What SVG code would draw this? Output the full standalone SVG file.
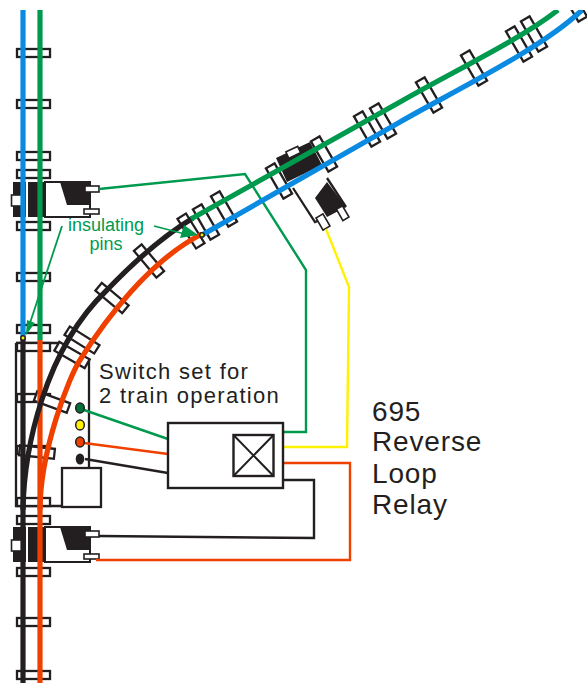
<svg xmlns="http://www.w3.org/2000/svg" width="587" height="683" viewBox="0 0 587 683">
<style>
.tie{fill:#fff;stroke:#231f20;stroke-width:2.3}
.hollow{fill:none;stroke:#231f20;stroke-width:2.3}
.rail{fill:none;stroke-width:5.2}
.wire{fill:none;stroke-width:2.4}
.bl{stroke:#0a8ae0}.gr{stroke:#009a4e}.rd{stroke:#f04000}.bk{stroke:#231f20}.yl{stroke:#fff200}
.pin{fill:#fff;stroke:#231f20;stroke-width:1.6}
text{font-family:"Liberation Sans",Arial,sans-serif}
.lab{font-size:22px;fill:#231f20;letter-spacing:1.3px}
.big{font-size:28px;fill:#231f20;letter-spacing:.85px}
.ins{font-size:18px;fill:#009a4e;text-anchor:middle}
</style>
<defs>
<clipPath id="c"><rect x="0" y="10" width="587" height="673"/></clipPath>
<rect id="vt" x="-33" y="-4" width="33" height="8"/>
<rect id="dt" x="-17.5" y="-5" width="35" height="10"/>
<g id="machine">
<rect x="45" y="182" width="45" height="35" fill="#fff" stroke="#231f20" stroke-width="2"/>
<path d="M13 182H45V217H13Z" fill="#231f20"/>
<rect x="26" y="182" width="2" height="35" fill="#fff"/>
<path d="M60 182H90V205H67Z" fill="#231f20"/>
<rect x="85" y="186" width="14" height="6" class="pin"/>
<rect x="84" y="209" width="15" height="5" class="pin"/>
<rect x="11.500" y="195" width="10.500" height="11" class="pin"/>
</g>
</defs>
<g id="base-plate" class="hollow">
<path d="M16 343V506H62"/><path d="M16 343H60"/><path d="M89 358V468"/>
</g>
<g id="ties" clip-path="url(#c)">
<g class="tie">
<use href="#vt" x="50" y="53"/><use href="#vt" x="50" y="104"/><use href="#vt" x="50" y="156"/><use href="#vt" x="50" y="174"/>
<use href="#vt" x="50" y="226"/><use href="#vt" x="50" y="277"/><use href="#vt" x="50" y="329"/><use href="#vt" x="50" y="347"/>
<use href="#vt" x="50" y="398"/><use href="#vt" x="50" y="450"/><use href="#vt" x="50" y="502"/><use href="#vt" x="50" y="520"/>
<use href="#vt" x="50" y="572"/><use href="#vt" x="50" y="622"/><use href="#vt" x="50" y="675"/>
</g>
<g class="tie">
<use href="#dt" transform="translate(37 452) rotate(6)"/>
<use href="#dt" transform="translate(52 402) rotate(20)"/>
<use href="#dt" transform="translate(72 355) rotate(30)"/>
<use href="#dt" transform="translate(82 340) rotate(32)"/>
<use href="#dt" transform="translate(112 298) rotate(40)"/>
<use href="#dt" transform="translate(149 261) rotate(50)"/>
<use href="#dt" transform="translate(191 231) rotate(58)"/>
<use href="#dt" transform="translate(206 222) rotate(60)"/>
<use href="#dt" transform="translate(224 209) rotate(60)"/>
<use href="#dt" transform="translate(279 181) rotate(60)"/>
<use href="#dt" transform="translate(324 154) rotate(60)"/>
<use href="#dt" transform="translate(367 129) rotate(60)"/>
<use href="#dt" transform="translate(383 121) rotate(60)"/>
<use href="#dt" transform="translate(429 95) rotate(60)"/>
<use href="#dt" transform="translate(474 68) rotate(60)"/>
<use href="#dt" transform="translate(519 44) rotate(60)"/>
<use href="#dt" transform="translate(534 34) rotate(60)"/>
<use href="#dt" transform="translate(574 4) rotate(60)"/>
</g>
</g>
<g id="switch-box" class="tie"><rect x="62" y="468" width="39" height="39"/></g>
<g id="machine-top"><use href="#machine"/></g>
<g id="machine-bottom"><use href="#machine" y="345"/></g>
<g id="machine-diagonal">
<path d="M293 188L315 222L325 218" class="hollow"/>
<path d="M327 178L346 207" class="hollow"/>
<path d="M276 158L310 142L322 165L287 182Z" fill="#231f20"/>
<rect x="287" y="149" width="13" height="7" transform="rotate(-25 293 153)" class="pin"/>
<path d="M327 182L346 207L327 217L315 198Z" fill="#231f20"/>
<rect x="319" y="215" width="8" height="14" transform="rotate(-30 323 222)" class="pin"/>
<rect x="339" y="207" width="7" height="13" transform="rotate(-30 342 213)" class="pin"/>
</g>
<g id="connectors">
<path class="wire gr" d="M84 410L168 439"/>
<path class="wire rd" d="M84 443L168 454"/>
<path class="wire bk" d="M85 459L168 473"/>
<path class="wire gr" d="M283 432H306V270L245 174L99 189"/>
<path class="wire yl" d="M283 447H347L349 287L326 229"/>
<path class="wire rd" d="M283 463H350V560H96"/>
<path class="wire bk" d="M283 480H314V538L99 536"/>
</g>
<g id="rails" clip-path="url(#c)">
<path class="rail bl" d="M23 10V338"/>
<path class="rail gr" d="M40 10V340"/>
<path class="rail bk" d="M23 338V683"/>
<path class="rail rd" d="M40 340V683"/>
<path class="rail bk" d="M23 510C24 450 44 350 107 290C130 266 160 238 193 218"/>
<path class="rail rd" d="M40 510C40 450 70 375 80 360C105 320 150 260 202 234"/>
<path class="rail gr" d="M191 219L400 102C450 73 520 40 558 10"/>
<path class="rail bl" d="M202 235L400 122C450 93 540 50 582 10"/>
</g>
<g id="led-green"><ellipse cx="80" cy="408" rx="4.300" ry="5" fill="#00703c" stroke="#231f20" stroke-width="1.500"/></g>
<g id="led-yellow"><ellipse cx="80" cy="425" rx="4.300" ry="5" fill="#fff200" stroke="#231f20" stroke-width="1.500"/></g>
<g id="led-red"><ellipse cx="80" cy="442" rx="4.300" ry="5" fill="#f04000" stroke="#231f20" stroke-width="1.500"/></g>
<g id="led-black"><ellipse cx="80" cy="459" rx="4.300" ry="5.500" fill="#231f20"/></g>
<g id="relay">
<rect x="168" y="423" width="115" height="65" fill="#fff" stroke="#231f20" stroke-width="2.400"/>
<rect x="233.500" y="435" width="40" height="41" fill="none" stroke="#231f20" stroke-width="2.400"/>
<path d="M233.500 435L273.500 476M273.500 435L233.500 476" fill="none" stroke="#231f20" stroke-width="2"/>
</g>
<g id="insulating-pins">
<circle cx="23" cy="338" r="2.200" fill="#fff200" stroke="#231f20" stroke-width="1.500"/>
<circle cx="202" cy="235" r="2.200" fill="#fff200" stroke="#231f20" stroke-width="1.500"/>
<path d="M62 226L29 326" stroke="#009a4e" stroke-width="1.800" fill="none"/>
<path d="M26 335L27 320L35 323Z" fill="#009a4e"/>
<path d="M154 226L185 234" stroke="#009a4e" stroke-width="1.800" fill="none"/>
<path d="M198 235L180 238L184 225Z" fill="#009a4e"/>
<text class="ins" x="106" y="231">insulating</text>
<text class="ins" x="106" y="250">pins</text>
</g>
<g id="labels">
<text class="lab" x="99" y="379">Switch set for</text>
<text class="lab" x="99" y="403">2 train operation</text>
<text class="big" x="372" y="421">695</text>
<text class="big" x="372" y="451">Reverse</text>
<text class="big" x="372" y="483">Loop</text>
<text class="big" x="372" y="514">Relay</text>
</g>
</svg>
